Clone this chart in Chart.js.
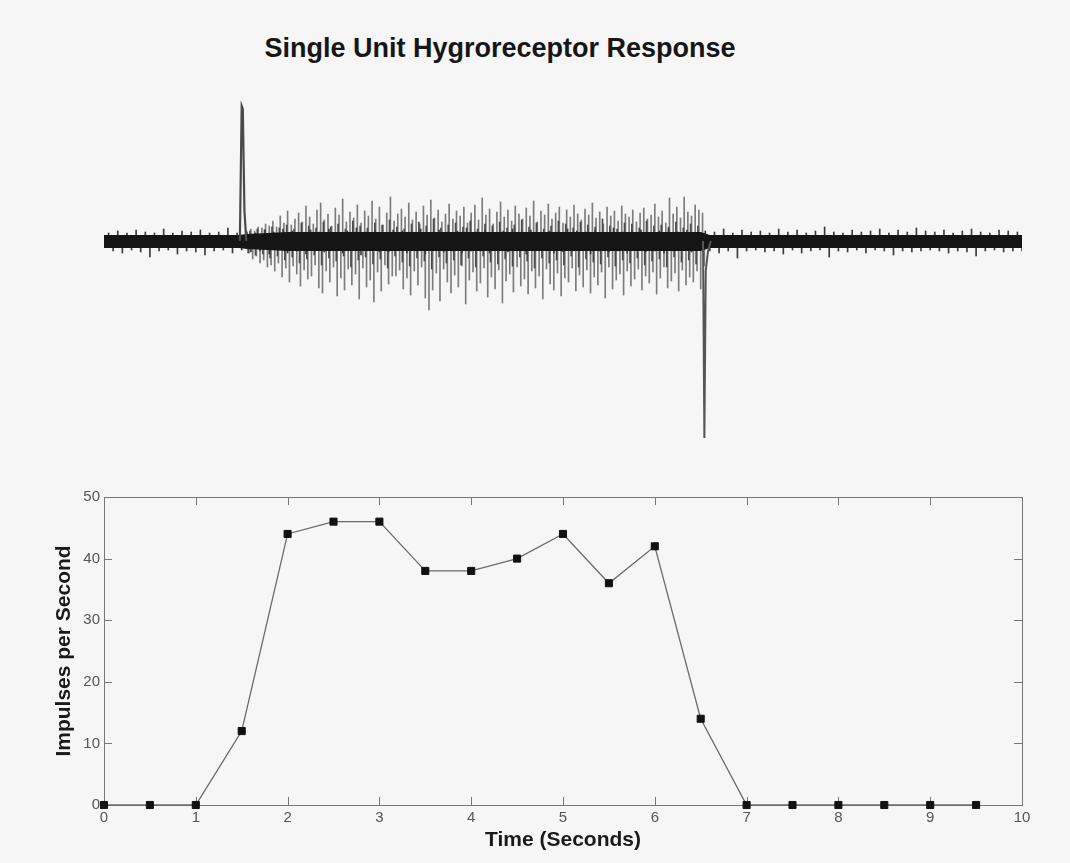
<!DOCTYPE html>
<html>
<head>
<meta charset="utf-8">
<script src="https://cdn.jsdelivr.net/npm/chart.js@4.4.0/dist/chart.umd.min.js"></script>
<style>
body { margin: 0; background: #f6f6f6; width: 1070px; height: 863px; overflow: hidden; position: relative; font-family: "Liberation Sans", Arial, sans-serif; }
#title { position: absolute; left: 0; top: 31px; width: 1000px; text-align: center; font-weight: bold; font-size: 27px; line-height: 34px; color: #161616; }
#traceBox { position: absolute; left: 0; top: 80px; width: 1070px; height: 380px; }
#rateBox { position: absolute; left: 0; top: 470px; width: 1070px; height: 393px; }
</style>
</head>
<body>
<div id="title">Single Unit Hygroreceptor Response</div>
<div id="traceBox"><canvas id="traceChart"></canvas></div>
<div id="rateBox"><canvas id="rateChart"></canvas></div>
<script>
// firing rate, one bin every half second
var rateTimes = [0, 0.5, 1, 1.5, 2, 2.5, 3, 3.5, 4, 4.5, 5, 5.5, 6, 6.5, 7, 7.5, 8, 8.5, 9, 9.5];
var rateValues = [0, 0, 0, 12, 44, 46, 46, 38, 38, 40, 44, 36, 42, 14, 0, 0, 0, 0, 0, 0];
var xTickValues = [0, 1, 2, 3, 4, 5, 6, 7, 8, 9, 10];
var yTickValues = [0, 10, 20, 30, 40, 50];

// raw recording (arbitrary units above/below the baseline)
var coreTimes = [0, 1.47, 1.56, 2.0, 6.5, 6.6, 10];
var coreTop = [6, 6, 7, 9, 9, 6, 6];
var coreBottom = [-7, -7, -8, -10, -10, -7, -7];

// background noise hairs
var fuzzStart = 0.05;
var fuzzStep = 0.1;
var fuzzUp = [8, 10, 8, 11, 9, 8, 12, 8, 10, 9,
    11, 8, 9, 13, 8, 10, 8, 11, 9, 12,
    10, 8, 11, 9, 12, 8, 10, 13, 9, 11,
    8, 11, 10, 9, 12, 8, 11, 9, 10, 13,
    9, 11, 8, 10, 12, 9, 11, 8, 10, 9,
    12, 10, 9, 11, 8, 13, 9, 10, 11, 8,
    10, 12, 9, 11, 8, 10, 9, 12, 8, 11,
    9, 10, 8, 12, 9, 11, 8, 10, 14, 9,
    8, 11, 9, 10, 12, 8, 11, 9, 13, 10,
    9, 11, 8, 10, 12, 9, 8, 11, 10, 9];
var fuzzDown = [10, 12, 9, 11, 16, 10, 9, 13, 10, 11,
    14, 10, 9, 12, 9, 11, 10, 13, 9, 12,
    10, 13, 9, 11, 9, 12, 10, 14, 9, 11,
    11, 9, 12, 10, 13, 9, 11, 10, 12, 10,
    10, 12, 10, 11, 9, 13, 10, 9, 12, 11,
    10, 9, 13, 10, 11, 10, 12, 9, 11, 10,
    12, 10, 9, 11, 9, 10, 12, 10, 17, 10,
    9, 11, 10, 13, 9, 12, 10, 9, 16, 10,
    11, 9, 12, 9, 10, 14, 10, 11, 10, 9,
    10, 12, 10, 11, 15, 10, 9, 11, 10, 10];

// unit spikes during the stimulus
var burstStart = 1.56;
var burstStep = 0.04;
var burstUp = [9, 12, 10, 14, 13, 17, 15,
    20, 14, 25, 18, 30, 16, 22, 28, 19, 35,
    24, 17, 31, 38, 21, 27, 15, 33, 26, 42, 19, 29, 23, 36,
    18, 30, 25, 40, 22, 34, 16, 28, 44, 20, 27, 32, 24, 38, 21,
    29, 17, 35, 26, 41, 23, 31, 19, 27, 37, 22, 30, 25, 34, 18,
    28, 36, 21, 43, 26, 32, 17, 29, 39, 24, 31, 20, 35, 27, 22,
    33, 25, 40, 19, 30, 26, 37, 22, 28, 34, 18, 31, 24, 36, 27,
    21, 32, 26, 38, 23, 29, 17, 34, 25, 30, 20, 35, 27, 24, 31,
    19, 28, 33, 22, 26, 37, 24, 30, 18, 43, 27, 34, 23, 44, 29, 25, 36, 31, 28];
var burstDown = [12, 18, 15, 22, 19, 26, 24,
    30, 22, 36, 27, 41, 25, 33, 45, 29, 38,
    35, 24, 47, 52, 30, 41, 26, 55, 37, 49, 28, 44, 33, 58,
    27, 46, 39, 61, 31, 50, 24, 43, 35, 35, 29, 48, 37, 54, 30,
    44, 26, 57, 69, 49, 32, 60, 28, 41, 52, 34, 46, 25, 63, 39,
    31, 50, 42, 27, 56, 36, 48, 29, 62, 40, 33, 51, 26, 45, 38,
    53, 30, 47, 35, 58, 28, 43, 49, 32, 55, 37, 41, 27, 50, 34,
    46, 29, 52, 36, 44, 31, 57, 26, 48, 39, 33, 54, 30, 45, 38,
    28, 49, 35, 42, 31, 53, 37, 26, 47, 40, 32, 50, 29, 44, 36, 41, 30, 48, 25];
var minorStep = 0.08;
var minorUp = [10, 12, 11, 14, 13, 16, 12, 18, 15, 13,
    19, 14, 17, 12, 20, 15, 13, 18, 16, 21,
    14, 12, 17, 19, 15, 22, 13, 16, 18, 14,
    20, 12, 17, 15, 19, 13, 16, 21, 14, 18,
    12, 15, 20, 17, 13, 19, 16, 14, 22, 15,
    12, 18, 17, 13, 20, 15, 16, 14, 19, 13,
    17, 15];
var minorDown = [12, 14, 13, 17, 15, 19, 16, 22, 18, 14,
    24, 17, 20, 15, 26, 19, 16, 23, 18, 27,
    15, 21, 25, 17, 20, 28, 16, 22, 19, 24,
    17, 26, 15, 21, 23, 18, 25, 16, 20, 27,
    17, 22, 19, 24, 15, 26, 18, 21, 23, 16,
    25, 19, 22, 17, 24, 20, 18, 26, 16, 21,
    19, 23];

// stimulus artifacts at onset and offset
var onsetTimes = [1.48, 1.50, 1.512, 1.53, 1.55];
var onsetValues = [0, 135, 132, 30, 0];
var offsetTimes = [6.525, 6.54, 6.555, 6.58, 6.61];
var offsetValues = [0, -197, -30, -10, 0];

Chart.defaults.font.family = '"Liberation Sans", Arial, sans-serif';

function points(xs, ys) {
    var out = [];
    for (var i = 0; i < xs.length; i++) out.push({x: xs[i], y: ys[i]});
    return out;
}
function spikes(start, step, vals, sign, shift) {
    var out = [];
    for (var i = 0; i < vals.length; i++) out.push({x: start + i * step + shift, y: [0, sign * vals[i]]});
    return out;
}
function spikeSet(data, color, order) {
    return { type: 'bar', data: data, backgroundColor: color, barThickness: 1, grouped: false, order: order };
}

var traceCtx = document.getElementById('traceChart');
new Chart(traceCtx, {
    type: 'line',
    data: {
        datasets: [
            { data: points(onsetTimes, onsetValues), borderColor: '#4a4a4a', borderWidth: 2.2, pointRadius: 0, order: 0 },
            { data: points(offsetTimes, offsetValues), borderColor: '#555', borderWidth: 2, pointRadius: 0, order: 0 },
            { data: points(coreTimes, coreTop), borderWidth: 0, borderColor: 'rgba(0,0,0,0)', pointRadius: 0, fill: '+1', backgroundColor: '#151515', order: 1 },
            { data: points(coreTimes, coreBottom), borderWidth: 0, borderColor: 'rgba(0,0,0,0)', pointRadius: 0, fill: false, order: 1 },
            spikeSet(spikes(fuzzStart, fuzzStep, fuzzUp, 1, 0), '#3a3a3a', 2),
            spikeSet(spikes(fuzzStart, fuzzStep, fuzzDown, -1, 0.05), '#3a3a3a', 2),
            spikeSet(spikes(burstStart, minorStep, minorUp, 1, 0.03), '#4a4a4a', 2),
            spikeSet(spikes(burstStart, minorStep, minorDown, -1, 0.01), '#4a4a4a', 2),
            spikeSet(spikes(burstStart, burstStep, burstUp, 1, 0), '#7c7c7c', 3),
            spikeSet(spikes(burstStart, burstStep, burstDown, -1, 0.02), '#7c7c7c', 3)
        ]
    },
    options: {
        animation: false,
        responsive: true,
        maintainAspectRatio: false,
        layout: { padding: { left: 104, right: 48, top: 21, bottom: 19 } },
        plugins: { legend: { display: false }, tooltip: { enabled: false } },
        scales: {
            x: { type: 'linear', min: 0, max: 10, offset: false, display: false },
            y: { min: -200, max: 140, display: false }
        }
    }
});

var boxTicks = {
    id: 'boxTicks',
    beforeDatasetsDraw: function(chart) {
        var ctx = chart.ctx;
        var a = chart.chartArea;
        var xs = chart.scales.x;
        var ys = chart.scales.y;
        var len = 8;
        ctx.save();
        ctx.strokeStyle = '#777';
        ctx.lineWidth = 1;
        ctx.strokeRect(Math.round(a.left) + 0.5, Math.round(a.top) + 0.5, Math.round(a.right - a.left), Math.round(a.bottom - a.top));
        ctx.beginPath();
        xTickValues.forEach(function(v) {
            if (v == xs.min || v == xs.max) return;
            var px = Math.round(xs.getPixelForValue(v)) + 0.5;
            ctx.moveTo(px, a.bottom); ctx.lineTo(px, a.bottom - len);
            ctx.moveTo(px, a.top); ctx.lineTo(px, a.top + len);
        });
        yTickValues.forEach(function(v) {
            if (v == ys.min || v == ys.max) return;
            var py = Math.round(ys.getPixelForValue(v)) + 0.5;
            ctx.moveTo(a.left, py); ctx.lineTo(a.left + len, py);
            ctx.moveTo(a.right, py); ctx.lineTo(a.right - len, py);
        });
        ctx.stroke();
        ctx.restore();
    }
};

var rateCtx = document.getElementById('rateChart');
new Chart(rateCtx, {
    type: 'line',
    data: {
        datasets: [{
            data: points(rateTimes, rateValues),
            borderColor: '#6a6a6a',
            borderWidth: 1.3,
            pointStyle: 'rect',
            pointRadius: 5,
            pointBorderWidth: 1,
            pointBackgroundColor: '#111',
            pointBorderColor: '#111',
            tension: 0,
            clip: false
        }]
    },
    options: {
        animation: false,
        responsive: true,
        maintainAspectRatio: false,
        layout: { padding: { left: 0, right: 48, top: 27, bottom: 0 } },
        plugins: { legend: { display: false }, tooltip: { enabled: false } },
        scales: {
            x: {
                type: 'linear', min: 0, max: 10,
                grid: { display: false, drawTicks: false },
                border: { display: false },
                afterBuildTicks: function(s) { s.ticks = xTickValues.map(function(v) { return {value: v}; }); },
                afterFit: function(s) { s.height = 58; },
                ticks: { color: '#555', font: { size: 15 }, padding: 4, maxRotation: 0, autoSkip: false },
                title: { display: true, text: 'Time (Seconds)', color: '#1a1a1a', font: { size: 21, weight: 'bold' }, padding: { top: 0, bottom: 10 } }
            },
            y: {
                min: 0, max: 50,
                grid: { display: false, drawTicks: false },
                border: { display: false },
                afterBuildTicks: function(s) { s.ticks = yTickValues.map(function(v) { return {value: v}; }); },
                afterFit: function(s) { s.width = 104; },
                ticks: { color: '#555', font: { size: 15 }, padding: 4 },
                title: { display: true, text: 'Impulses per Second', color: '#1a1a1a', font: { size: 21, weight: 'bold' }, padding: { top: 52, bottom: 0 } }
            }
        }
    },
    plugins: [boxTicks]
});
</script>
</body>
</html>
